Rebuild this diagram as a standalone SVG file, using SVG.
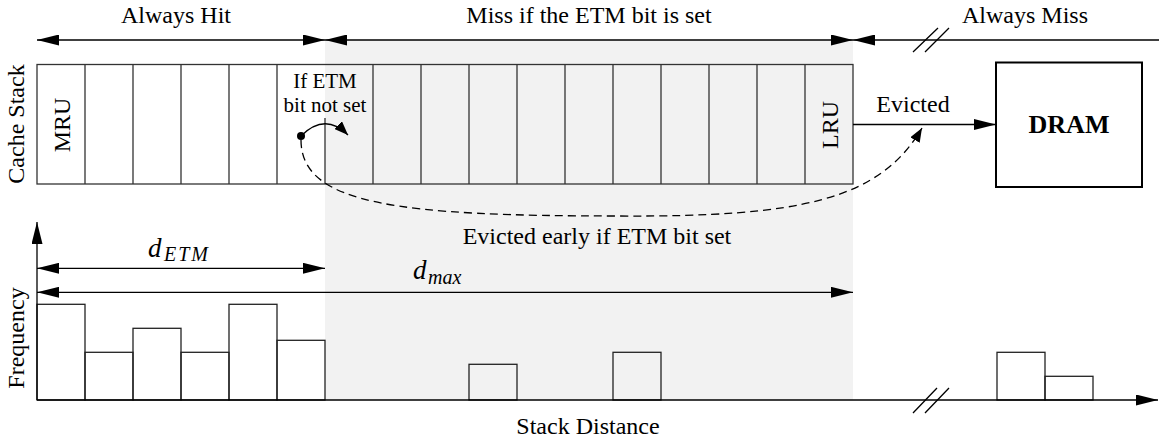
<svg xmlns="http://www.w3.org/2000/svg" width="1159" height="441" viewBox="0 0 1159 441">
  <defs>
    <marker id="arr" markerUnits="userSpaceOnUse" markerWidth="22" markerHeight="11" refX="22" refY="5.5" orient="auto-start-reverse">
      <path d="M0,0 L22,5.5 L0,11 Z" fill="#000"/>
    </marker>
    <marker id="arr-s" markerUnits="userSpaceOnUse" markerWidth="14" markerHeight="11" refX="14" refY="5.5" orient="auto">
      <path d="M0,0 L14,5.5 L0,11 Z" fill="#000"/>
    </marker>
  </defs>
  <style>
    text { font-family: "Liberation Serif", "Times New Roman", serif; font-size: 24px; fill: #000; }
    .small { font-size: 21px; }
    .math { font-style: italic; }
    .cell { fill: none; stroke: #333; stroke-width: 1.3; }
    .bar { fill: none; stroke: #222; stroke-width: 1.3; }
    .line { fill: none; stroke: #000; stroke-width: 1.3; }
    .dash { fill: none; stroke: #000; stroke-width: 1.3; stroke-dasharray: 8 5; }
  </style>

  <!-- region where the ETM bit decides hit or miss -->
  <rect id="etm-zone" x="325" y="40" width="528" height="360" fill="#f2f2f2"/>

  <!-- range labels -->
  <g id="ranges">
    <text x="176" y="23" text-anchor="middle">Always Hit</text>
    <text x="589" y="23" text-anchor="middle">Miss if the ETM bit is set</text>
    <text x="1025" y="23" text-anchor="middle">Always Miss</text>
  </g>

  <!-- cache stack -->
  <g id="cache-stack">
    <rect class="cell" x="37" y="64.5" width="816" height="119.5"/>
    <path class="cell" d="M85,64.5V184 M133,64.5V184 M181,64.5V184 M229,64.5V184 M277,64.5V184 M325,118V184 M373,64.5V184 M421,64.5V184 M469,64.5V184 M517,64.5V184 M565,64.5V184 M613,64.5V184 M661,64.5V184 M709,64.5V184 M757,64.5V184 M805,64.5V184"/>
    <text transform="translate(24,124) rotate(-90)" text-anchor="middle">Cache Stack</text>
    <text transform="translate(70,125) rotate(-90)" text-anchor="middle">MRU</text>
    <text transform="translate(838,125) rotate(-90)" text-anchor="middle">LRU</text>
    <text class="small" x="325" y="88" text-anchor="middle">If ETM</text>
    <text class="small" x="325" y="112" text-anchor="middle">bit not set</text>
    <circle cx="301" cy="136" r="4" fill="#000"/>
  </g>

  <!-- main memory -->
  <g id="dram">
    <rect x="996" y="62.5" width="146" height="124.5" fill="#fff" stroke="#000" stroke-width="2"/>
    <text x="1069" y="133" text-anchor="middle" font-weight="bold" style="font-size:26px">DRAM</text>
  </g>

  <!-- stack distance histogram -->
  <g id="histogram">
    <rect class="bar" x="37" y="304.3" width="48" height="95.7"/>
    <rect class="bar" x="85" y="352.3" width="48" height="47.7"/>
    <rect class="bar" x="133" y="328.3" width="48" height="71.7"/>
    <rect class="bar" x="181" y="352.3" width="48" height="47.7"/>
    <rect class="bar" x="229" y="304.3" width="48" height="95.7"/>
    <rect class="bar" x="277" y="340.3" width="48" height="59.7"/>
    <rect class="bar" x="469" y="364.3" width="48" height="35.7"/>
    <rect class="bar" x="613" y="352.3" width="48" height="47.7"/>
    <rect class="bar" x="997" y="352.3" width="48" height="47.7"/>
    <rect class="bar" x="1045" y="376.3" width="48" height="23.7"/>
    <text transform="translate(24,338) rotate(-90)" text-anchor="middle">Frequency</text>
    <text x="588" y="434" text-anchor="middle">Stack Distance</text>
  </g>

  <!-- arrows and connectors -->
  <g id="connectors">
    <!-- range arrows -->
    <line class="line" x1="37" y1="40" x2="325" y2="40" marker-start="url(#arr)" marker-end="url(#arr)"/>
    <line class="line" x1="325" y1="40" x2="853" y2="40" marker-start="url(#arr)" marker-end="url(#arr)"/>
    <line class="line" x1="853" y1="40" x2="1159" y2="40" marker-start="url(#arr)"/>
    <path class="line" d="M913,52 L938,28 M925,52 L949,28"/>

    <!-- eviction to DRAM -->
    <line class="line" x1="853" y1="124.5" x2="996" y2="124.5" marker-end="url(#arr)"/>
    <text x="913" y="112" text-anchor="middle">Evicted</text>

    <!-- ETM bit not set: moves one slot down -->
    <path class="line" d="M301,136 Q325,112 348,135" marker-end="url(#arr-s)"/>

    <!-- ETM bit set: early eviction -->
    <path class="dash" d="M301,140 C301,205 400,216 620,216 C800,217 880,200 922,128" marker-end="url(#arr-s)"/>
    <text x="597" y="244" text-anchor="middle">Evicted early if ETM bit set</text>

    <!-- axes -->
    <line class="line" x1="37" y1="400" x2="37" y2="222" marker-end="url(#arr)"/>
    <line class="line" x1="37" y1="400" x2="1158" y2="400" marker-end="url(#arr)"/>
    <path class="line" d="M913,413 L937,388 M925,413 L949,388"/>

    <!-- distance ranges -->
    <line class="line" x1="37" y1="268.3" x2="325" y2="268.3" marker-start="url(#arr)" marker-end="url(#arr)"/>
    <text class="math" x="148" y="257" style="font-size:27px">d</text>
    <text class="math" x="164" y="261" style="font-size:20px;letter-spacing:2px">ETM</text>
    <line class="line" x1="37" y1="292.3" x2="853" y2="292.3" marker-start="url(#arr)" marker-end="url(#arr)"/>
    <text class="math" x="413" y="279" style="font-size:27px">d</text>
    <text class="math" x="428" y="284" style="font-size:20px">max</text>
  </g>
</svg>
